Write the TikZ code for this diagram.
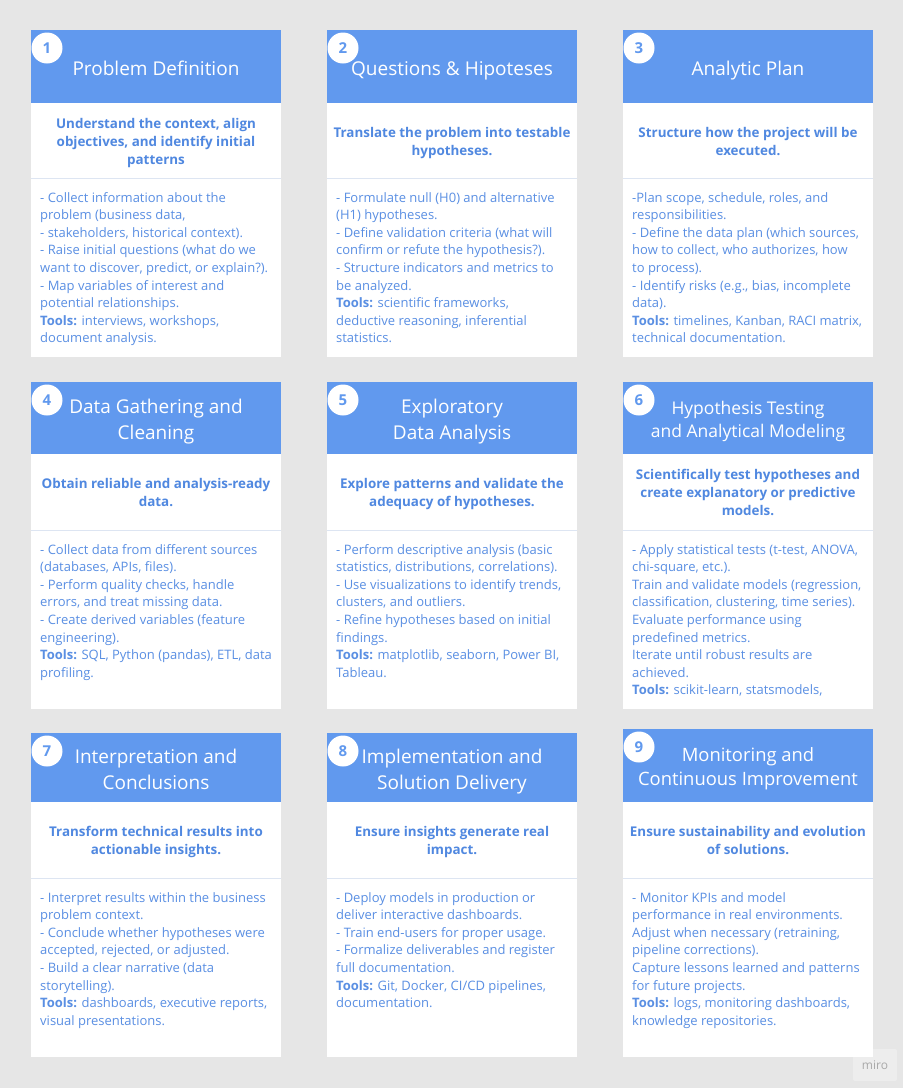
\documentclass[tikz,border=0pt]{standalone}
\usepackage{fontspec}
\setmainfont{Open Sans}
\definecolor{bggray}{HTML}{E6E6E6}
\definecolor{headblue}{HTML}{6199EE}
\definecolor{subblue}{HTML}{5088E0}
\definecolor{txtblue}{HTML}{5A8FE3}
\definecolor{divcol}{HTML}{DDE5F2}
\definecolor{mirogray}{HTML}{A9A9A9}
\newcommand\mkcard[7]{%
  \fill[white] (#2,#3) rectangle (#2+250,#6);
  \fill[headblue] (#2,#3) rectangle (#2+250,#4);
  \draw[divline] (#2,#5) -- (#2+250,#5);
  \node[numcirc] (n#1) at (#2+16,#3+18) {#7};
  \coordinate (t#1) at (#2+125,{(#3+#4)/2+3.5});
  \coordinate (s#1) at (#2+125,{(#4+#5)/2+2});
  \coordinate (b#1) at (#2+9,#5+14);
}
\begin{document}
\begin{tikzpicture}[x=1pt,y=-1pt,
  divline/.style={draw=divcol,line width=1pt},
  numcirc/.style={circle,fill=white,minimum size=31pt,inner sep=0pt,text=headblue,font=\fontsize{15}{15}\selectfont\bfseries},
  titletext/.style={align=center,text=white,inner sep=0pt,font=\fontsize{19}{26}\selectfont},
  subtext/.style={align=center,text=subblue,inner sep=0pt,font=\fontsize{13.4}{18}\selectfont\bfseries},
  bodytext/.style={anchor=north west,align=left,text=txtblue,inner sep=0pt,font=\fontsize{13}{17.6}\selectfont},
]
\fill[bggray] (0,0) rectangle (903,1088);
\useasboundingbox (0,0) rectangle (903,1088);

% Row 1
\mkcard{1}{31}{30}{103}{178}{357}{1}
\mkcard{2}{327}{30}{103}{178}{357}{2}
\mkcard{3}{623}{30}{103}{178}{357}{3}
% Row 2
\mkcard{4}{31}{382}{454}{530}{709}{4}
\mkcard{5}{327}{382}{454}{530}{709}{5}
\mkcard{6}{623}{382}{454}{530}{709}{6}
% Row 3
\mkcard{7}{31}{733}{802}{878}{1057}{7}
\mkcard{8}{327}{733}{802}{878}{1057}{8}
\mkcard{9}{623}{729}{802}{878}{1057}{9}

% Titles
\node[titletext] (title1) at (t1) {\strut Problem Definition\strut};
\node[titletext] (title2) at (t2) {\strut Questions \& Hipoteses\strut};
\node[titletext] (title3) at (t3) {\strut Analytic Plan\strut};
\node[titletext] (title4) at (t4) {\strut Data Gathering and\\Cleaning\strut};
\node[titletext] (title5) at (t5) {\strut Exploratory\\Data Analysis\strut};
\node[titletext,font=\fontsize{17.5}{23}\selectfont] (title6) at (t6) {\strut Hypothesis Testing\\and Analytical Modeling\strut};
\node[titletext] (title7) at (t7) {\strut Interpretation and\\Conclusions\strut};
\node[titletext] (title8) at (t8) {\strut Implementation and\\Solution Delivery\strut};
\node[titletext,font=\fontsize{18.4}{24}\selectfont] (title9) at (t9) {\strut Monitoring and\\Continuous Improvement\strut};

% Subtitles
\node[subtext] (sub1) at (s1) {\strut Understand the context, align\\objectives, and identify initial\\patterns\strut};
\node[subtext] (sub2) at (s2) {\strut Translate the problem into testable\\hypotheses.\strut};
\node[subtext] (sub3) at (s3) {\strut Structure how the project will be\\executed.\strut};
\node[subtext] (sub4) at (s4) {\strut Obtain reliable and analysis-ready\\data.\strut};
\node[subtext] (sub5) at (s5) {\strut Explore patterns and validate the\\adequacy of hypotheses.\strut};
\node[subtext] (sub6) at (s6) {\strut Scientifically test hypotheses and\\create explanatory or predictive\\models.\strut};
\node[subtext] (sub7) at (s7) {\strut Transform technical results into\\actionable insights.\strut};
\node[subtext] (sub8) at (s8) {\strut Ensure insights generate real\\impact.\strut};
\node[subtext] (sub9) at (s9) {\strut Ensure sustainability and evolution\\of solutions.\strut};

% Bodies
\node[bodytext] (body1) at (b1) {- Collect information about the\\problem (business data,\\- stakeholders, historical context).\\- Raise initial questions (what do we\\want to discover, predict, or explain?).\\- Map variables of interest and\\potential relationships.\\\textbf{Tools:} interviews, workshops,\\document analysis.};
\node[bodytext] (body2) at (b2) {- Formulate null (H0) and alternative\\(H1) hypotheses.\\- Define validation criteria (what will\\confirm or refute the hypothesis?).\\- Structure indicators and metrics to\\be analyzed.\\\textbf{Tools:} scientific frameworks,\\deductive reasoning, inferential\\statistics.};
\node[bodytext] (body3) at (b3) {-Plan scope, schedule, roles, and\\responsibilities.\\- Define the data plan (which sources,\\how to collect, who authorizes, how\\to process).\\- Identify risks (e.g., bias, incomplete\\data).\\\textbf{Tools:} timelines, Kanban, RACI matrix,\\technical documentation.};
\node[bodytext] (body4) at (b4) {- Collect data from different sources\\(databases, APIs, files).\\- Perform quality checks, handle\\errors, and treat missing data.\\- Create derived variables (feature\\engineering).\\\textbf{Tools:} SQL, Python (pandas), ETL, data\\profiling.};
\node[bodytext] (body5) at (b5) {- Perform descriptive analysis (basic\\statistics, distributions, correlations).\\- Use visualizations to identify trends,\\clusters, and outliers.\\- Refine hypotheses based on initial\\findings.\\\textbf{Tools:} matplotlib, seaborn, Power BI,\\Tableau.};
\node[bodytext] (body6) at (b6) {- Apply statistical tests (t-test, ANOVA,\\chi-square, etc.).\\Train and validate models (regression,\\classification, clustering, time series).\\Evaluate performance using\\predefined metrics.\\Iterate until robust results are\\achieved.\\\textbf{Tools:} scikit-learn, statsmodels,};
\node[bodytext] (body7) at (b7) {- Interpret results within the business\\problem context.\\- Conclude whether hypotheses were\\accepted, rejected, or adjusted.\\- Build a clear narrative (data\\storytelling).\\\textbf{Tools:} dashboards, executive reports,\\visual presentations.};
\node[bodytext] (body8) at (b8) {- Deploy models in production or\\deliver interactive dashboards.\\- Train end-users for proper usage.\\- Formalize deliverables and register\\full documentation.\\\textbf{Tools:} Git, Docker, CI/CD pipelines,\\documentation.};
\node[bodytext] (body9) at (b9) {- Monitor KPIs and model\\performance in real environments.\\Adjust when necessary (retraining,\\pipeline corrections).\\Capture lessons learned and patterns\\for future projects.\\\textbf{Tools:} logs, monitoring dashboards,\\knowledge repositories.};

% watermark
\node[fill=white,fill opacity=0.3,text opacity=1,text=mirogray,rounded corners=2pt,minimum width=44pt,minimum height=32pt,inner sep=0pt,font=\fontsize{12}{12}\selectfont] (miro) at (875,1065) {miro};
\end{tikzpicture}
\end{document}
